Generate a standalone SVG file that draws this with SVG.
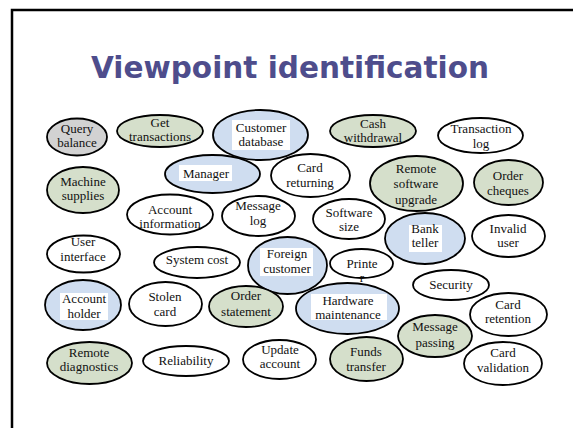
<svg xmlns="http://www.w3.org/2000/svg" width="573" height="428" viewBox="0 0 573 428">
<style>
.n{stroke:#000;stroke-width:1.8;fill:#fff}
.g{fill:#d5dfcb}
.b{fill:#cfddf0}
.q{fill:#d2d2d2}
.w{fill:#fff}
text{font-family:"Liberation Serif","Times New Roman",serif;font-size:13px;fill:#111;text-anchor:middle}
.t{font-family:"DejaVu Sans",sans-serif;font-weight:bold;font-size:31px;fill:#4e4d8c}
</style>
<rect width="573" height="428" fill="#fff"/>
<path d="M12 428V10H573" fill="none" stroke="#000" stroke-width="2.5"/>
<text class="t" x="290" y="78" textLength="398" lengthAdjust="spacingAndGlyphs">Viewpoint identification</text>
<g id="connectors"/>
<g id="qb"><ellipse class="n q" cx="77" cy="137" rx="30" ry="18.5"/><text x="77" y="133">Query</text><text x="77" y="147">balance</text></g>
<g id="gt"><ellipse class="n g" cx="160" cy="131" rx="43" ry="16"/><text x="160" y="127">Get</text><text x="160" y="141">transactions</text></g>
<g id="cd"><ellipse class="n b" cx="260.5" cy="135" rx="47.5" ry="25"/><rect class="w" x="232" y="120" width="58" height="30"/><text x="261" y="132">Customer</text><text x="261" y="146">database</text></g>
<g id="cw"><ellipse class="n g" cx="373" cy="131" rx="43" ry="16"/><text x="373" y="128">Cash</text><text x="373" y="142">withdrawal</text></g>
<g id="tl"><ellipse class="n" cx="480.5" cy="135.5" rx="42.5" ry="17.5"/><text x="481" y="133">Transaction</text><text x="481" y="148">log</text></g>
<g id="ms"><ellipse class="n g" cx="83" cy="190" rx="36" ry="23"/><text x="83" y="186">Machine</text><text x="83" y="200">supplies</text></g>
<g id="mg"><ellipse class="n b" cx="212.5" cy="174" rx="47.5" ry="19"/><rect class="w" x="179" y="165" width="53" height="16"/><text x="206" y="178">Manager</text></g>
<g id="cr"><ellipse class="n" cx="310.5" cy="175.5" rx="39.5" ry="21.5"/><text x="310" y="172">Card</text><text x="310" y="187">returning</text></g>
<g id="rsu"><ellipse class="n g" cx="416.5" cy="183.5" rx="46.5" ry="27.5"/><text x="416" y="173">Remote</text><text x="416" y="188">software</text><text x="416" y="204">upgrade</text></g>
<g id="oc"><ellipse class="n g" cx="508.5" cy="182.5" rx="34.5" ry="22.5"/><text x="508" y="180">Order</text><text x="508" y="195">cheques</text></g>
<g id="ai"><ellipse class="n" cx="170" cy="214.5" rx="43" ry="20"/><text x="170" y="214">Account</text><text x="170" y="228">information</text></g>
<g id="ml"><ellipse class="n" cx="258.5" cy="216" rx="36.5" ry="20"/><text x="258" y="210">Message</text><text x="258" y="225">log</text></g>
<g id="ss"><ellipse class="n" cx="349" cy="219" rx="36" ry="20"/><text x="349" y="217">Software</text><text x="349" y="231">size</text></g>
<g id="bt"><ellipse class="n b" cx="425" cy="238.5" rx="40" ry="25.5"/><rect class="w" x="409" y="225" width="33" height="27"/><text x="425" y="233">Bank</text><text x="425" y="247">teller</text></g>
<g id="iu"><ellipse class="n" cx="508.5" cy="236" rx="36.5" ry="21"/><text x="508" y="233">Invalid</text><text x="508" y="247">user</text></g>
<g id="ui"><ellipse class="n" cx="83.5" cy="254" rx="36.5" ry="18.5"/><text x="83" y="246">User</text><text x="83" y="261">interface</text></g>
<g id="sc"><ellipse class="n" cx="197" cy="262.5" rx="43" ry="15.5"/><text x="197" y="263.5">System cost</text></g>
<g id="fc"><ellipse class="n b" cx="287.5" cy="265.5" rx="39.5" ry="28.5"/><rect class="w" x="260" y="248" width="53" height="28"/><text x="287" y="258">Foreign</text><text x="287" y="273">customer</text></g>
<g id="pr"><ellipse class="n" cx="361.5" cy="263.5" rx="31.5" ry="14.5"/><text x="362" y="267.5">Printe</text><text x="362" y="282">r</text></g>
<g id="se"><ellipse class="n" cx="451" cy="285" rx="38" ry="15"/><text x="451" y="289">Security</text></g>
<g id="crt"><ellipse class="n" cx="508.5" cy="314.5" rx="38.5" ry="21.5"/><text x="508" y="309">Card</text><text x="508" y="323">retention</text></g>
<g id="ah"><ellipse class="n b" cx="83" cy="305" rx="38" ry="25"/><rect class="w" x="60" y="293" width="48" height="27"/><text x="84" y="303">Account</text><text x="84" y="318">holder</text></g>
<g id="stc"><ellipse class="n" cx="165.5" cy="304" rx="36.5" ry="22"/><text x="165" y="301">Stolen</text><text x="165" y="316">card</text></g>
<g id="os"><ellipse class="n g" cx="246" cy="306.5" rx="37" ry="20.5"/><text x="246" y="300">Order</text><text x="246" y="316">statement</text></g>
<g id="hm"><ellipse class="n b" cx="347.5" cy="308.5" rx="51.5" ry="25.5"/><rect class="w" x="311" y="294" width="76" height="26"/><text x="348" y="305">Hardware</text><text x="348" y="319">maintenance</text></g>
<g id="mp"><ellipse class="n g" cx="435" cy="336" rx="37" ry="21"/><text x="435" y="331">Message</text><text x="435" y="347">passing</text></g>
<g id="rd"><ellipse class="n g" cx="89.5" cy="363" rx="42.5" ry="21"/><text x="89" y="357">Remote</text><text x="89" y="371">diagnostics</text></g>
<g id="rl"><ellipse class="n" cx="186" cy="361" rx="43" ry="15"/><text x="186" y="365">Reliability</text></g>
<g id="ua"><ellipse class="n" cx="279.5" cy="359.5" rx="36.5" ry="19.5"/><text x="280" y="354">Update</text><text x="280" y="368">account</text></g>
<g id="ft"><ellipse class="n g" cx="366.5" cy="359" rx="36.5" ry="22"/><text x="366" y="356">Funds</text><text x="366" y="371">transfer</text></g>
<g id="cv"><ellipse class="n" cx="503" cy="363.5" rx="39" ry="21.5"/><text x="503" y="357">Card</text><text x="503" y="372">validation</text></g>
</svg>
